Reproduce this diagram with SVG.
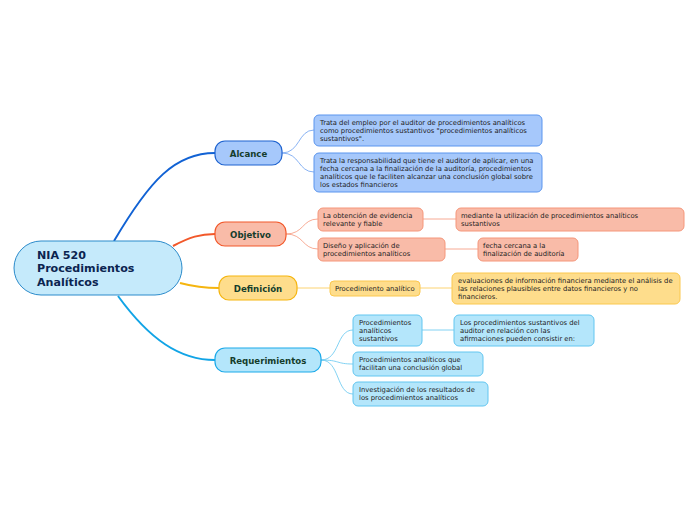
<svg xmlns="http://www.w3.org/2000/svg" width="696" height="520" viewBox="0 0 696 520">
<style>
text{font-family:"DejaVu Sans",Verdana,sans-serif}
.t{font-size:6.8px;fill:#222}
.m{font-size:8.6px;font-weight:bold;fill:#153d2c}
.c{font-size:11.1px;font-weight:bold;fill:#0b2450}
.lb{fill:none;stroke-width:2}
.ls{fill:none;stroke-width:0.8}
.bA{fill:#a6c8fb;stroke:#5b95ee;stroke-width:1}
.bO{fill:#f9bba8;stroke:#f5967a;stroke-width:1}
.bD{fill:#fedd8c;stroke:#fbc84f;stroke-width:1}
.bR{fill:#b4e6fb;stroke:#62c6f0;stroke-width:1}
</style>
<rect width="696" height="520" fill="#fff"/>
<g id="connectors">
<path class="lb" stroke="#1162d4" d="M114,241 C150,180 175,153 215,153"/>
<path class="lb" stroke="#f2582a" d="M173,246 C190,237 200,234 215,234"/>
<path class="lb" stroke="#f5b50f" d="M180,283 C195,287 205,288 219,288"/>
<path class="lb" stroke="#11a4e6" d="M118,296 C150,340 180,360 215,360"/>
<path class="ls" stroke="#6a9ef0" d="M282,153 C300,153 298,130 314,130 M282,153 C300,153 298,172 314,172"/>
<path class="ls" stroke="#f5967a" d="M286,234 C304,234 302,219 318,219 M286,234 C304,234 302,249 318,249"/>
<path class="ls" stroke="#f5967a" d="M423,219 L456,219 M445,249 L478,249"/>
<path class="ls" stroke="#fbc84f" d="M297,288 L330,288 M420,288 L452,288"/>
<path class="ls" stroke="#62c6f0" d="M321,360 C340,360 336,330 353,330 M321,360 C340,360 336,364 353,364 M321,360 C340,360 336,394 353,394"/>
<path class="ls" stroke="#62c6f0" d="M422,330 L454,330"/>
</g>
<g id="central">
<rect x="14" y="241" width="168" height="54" rx="27" fill="#c5eafb" stroke="#2b8bcb" stroke-width="1"/>
<text class="c" x="37" y="259">NIA 520</text>
<text class="c" x="37" y="272">Procedimientos</text>
<text class="c" x="37" y="286">Analíticos</text>
</g>
<g id="alcance">
<rect x="215" y="141" width="67" height="24" rx="10" fill="#a6c8fb" stroke="#1e63d0" stroke-width="1.2"/>
<text class="m" x="248.5" y="156.5" text-anchor="middle">Alcance</text>
</g>
<g id="objetivo">
<rect x="215" y="222" width="71" height="24" rx="10" fill="#f9bba8" stroke="#f2582a" stroke-width="1.2"/>
<text class="m" x="250.5" y="237.5" text-anchor="middle">Objetivo</text>
</g>
<g id="definicion">
<rect x="219" y="276" width="78" height="24" rx="10" fill="#fedd8c" stroke="#f5b50f" stroke-width="1.2"/>
<text class="m" x="258" y="291.5" text-anchor="middle">Definición</text>
</g>
<g id="requerimientos">
<rect x="215" y="348" width="106" height="24" rx="10" fill="#b4e6fb" stroke="#1ba9e9" stroke-width="1.2"/>
<text class="m" x="268" y="363.5" text-anchor="middle">Requerimientos</text>
</g>
<g id="alc1">
<rect class="bA" x="314" y="115" width="228" height="31" rx="5"/>
<text class="t" x="320" y="124.5">Trata del empleo por el auditor de procedimientos analíticos</text>
<text class="t" x="320" y="132.8">como procedimientos sustantivos "procedimientos analíticos</text>
<text class="t" x="320" y="141.1">sustantivos".</text>
</g>
<g id="alc2">
<rect class="bA" x="314" y="153" width="228" height="39" rx="5"/>
<text class="t" x="320" y="162.5">Trata la responsabilidad que tiene el auditor de aplicar, en una</text>
<text class="t" x="320" y="170.8">fecha cercana a la finalización de la auditoría, procedimientos</text>
<text class="t" x="320" y="179.1">analíticos que le faciliten alcanzar una conclusión global sobre</text>
<text class="t" x="320" y="187.4">los estados financieros</text>
</g>
<g id="obj1">
<rect class="bO" x="318" y="208" width="105" height="23" rx="5"/>
<text class="t" x="323" y="217.5">La obtención de evidencia</text>
<text class="t" x="323" y="225.8">relevante y fiable</text>
</g>
<g id="obj1a">
<rect class="bO" x="456" y="208" width="228" height="23" rx="5"/>
<text class="t" x="461" y="217.5">mediante la utilización de procedimientos analíticos</text>
<text class="t" x="461" y="225.8">sustantivos</text>
</g>
<g id="obj2">
<rect class="bO" x="318" y="238" width="127" height="23" rx="5"/>
<text class="t" x="323" y="247.5">Diseño y aplicación de</text>
<text class="t" x="323" y="255.8">procedimientos analíticos</text>
</g>
<g id="obj2a">
<rect class="bO" x="478" y="238" width="100" height="23" rx="5"/>
<text class="t" x="483" y="247.5">fecha cercana a la</text>
<text class="t" x="483" y="255.8">finalización de auditoría</text>
</g>
<g id="def1">
<rect class="bD" x="330" y="281" width="90" height="15" rx="4"/>
<text class="t" x="335" y="291">Procedimiento analítico</text>
</g>
<g id="def1a">
<rect class="bD" x="452" y="273" width="228" height="31" rx="5"/>
<text class="t" x="458" y="282.5">evaluaciones de información financiera mediante el análisis de</text>
<text class="t" x="458" y="290.8">las relaciones plausibles entre datos financieros y no</text>
<text class="t" x="458" y="299.1">financieros.</text>
</g>
<g id="req1">
<rect class="bR" x="353" y="315" width="69" height="31" rx="5"/>
<text class="t" x="359" y="324.5">Procedimientos</text>
<text class="t" x="359" y="332.8">analíticos</text>
<text class="t" x="359" y="341.1">sustantivos</text>
</g>
<g id="req1a">
<rect class="bR" x="454" y="315" width="140" height="31" rx="5"/>
<text class="t" x="460" y="324.5">Los procedimientos sustantivos del</text>
<text class="t" x="460" y="332.8">auditor en relación con las</text>
<text class="t" x="460" y="341.1">afirmaciones pueden consistir en:</text>
</g>
<g id="req2">
<rect class="bR" x="353" y="352" width="130" height="24" rx="5"/>
<text class="t" x="359" y="361.5">Procedimientos analíticos que</text>
<text class="t" x="359" y="369.8">facilitan una conclusión global</text>
</g>
<g id="req3">
<rect class="bR" x="353" y="382" width="135" height="24" rx="5"/>
<text class="t" x="359" y="391.5">Investigación de los resultados de</text>
<text class="t" x="359" y="399.8">los procedimientos analíticos</text>
</g>
</svg>
